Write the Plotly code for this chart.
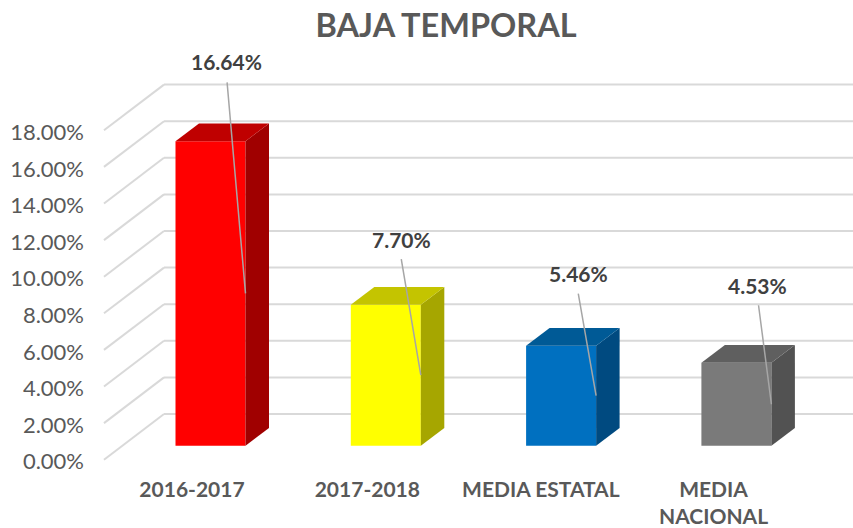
import plotly.graph_objects as go

categories = ["2016-2017", "2017-2018", "MEDIA ESTATAL", "MEDIA<br>NACIONAL"]
category_ticks = [0, 1, 1.99, 2.975]
values = [16.64, 7.70, 5.46, 4.53]
y_ticks = [0, 2, 4, 6, 8, 10, 12, 14, 16, 18]
y_tick_labels = ["0.00%", "2.00%", "4.00%", "6.00%", "8.00%", "10.00%", "12.00%", "14.00%", "16.00%", "18.00%"]

front_colors = ["#ff0000", "#ffff00", "#0070c0", "#7a7a7a"]
side_colors = ["#a00000", "#a6a600", "#004a80", "#525252"]
top_colors = ["#bf0000", "#c4c400", "#005a96", "#5f5f5f"]

# offsets from the bar edge, in pixels
leader_ax = [-18.5, -19.7, -18, -13]
leader_ay = [-212, -117, -103, -100]
label_dx = [-19.5, -19.7, -18, -14]
label_dy = [-232, -136, -122, -119]

WIDTH, HEIGHT = 853, 528
L, R, T, B = 85, 0, 50, 60

PX_X = 175.3  # pixels per category
PX_Y = 18.3  # pixels per percent
FIRST_TICK = 192  # pixel position of category 0
ZERO_Y = 445.7  # pixel position of 0% on the front of the bars

x_range = [(L - FIRST_TICK) / PX_X, (WIDTH - R - FIRST_TICK) / PX_X]
y_range = [(ZERO_Y - (HEIGHT - B)) / PX_Y, (ZERO_Y - T) / PX_Y]

bar_offset = -16.5 / PX_X
bar_width = 70 / PX_X
depth_x = 23.5 / PX_X
depth_y = 17.7 / PX_Y

# the wall sits behind and the floor edge in front of the bars
wall_up = 31.7 / PX_Y
floor_down = 14 / PX_Y
wall_left = (164 - FIRST_TICK) / PX_X
floor_left = (104 - FIRST_TICK) / PX_X

grid = dict(color="#d9d9d9", width=2)

fig = go.Figure()

fig.add_trace(
    go.Bar(
        x=list(range(len(values))),
        y=values,
        offset=bar_offset,
        width=bar_width,
        marker=dict(color=front_colors, line=dict(width=0)),
        showlegend=False,
    )
)

for i, v in enumerate(values):
    xl = i + bar_offset
    xr = xl + bar_width
    fig.add_trace(
        go.Scatter(
            x=[xr, xr + depth_x, xr + depth_x, xr, xr],
            y=[0, depth_y, v + depth_y, v, 0],
            mode="lines",
            fill="toself",
            fillcolor=side_colors[i],
            line=dict(width=0),
            showlegend=False,
        )
    )
    fig.add_trace(
        go.Scatter(
            x=[xl, xl + depth_x, xr + depth_x, xr, xl],
            y=[v, v + depth_y, v + depth_y, v, v],
            mode="lines",
            fill="toself",
            fillcolor=top_colors[i],
            line=dict(width=0),
            showlegend=False,
        )
    )
    # leader line, then its label
    fig.add_annotation(
        x=xr,
        y=v / 2,
        ax=leader_ax[i],
        ay=leader_ay[i],
        text=" ",
        font=dict(size=1),
        borderpad=0,
        showarrow=True,
        arrowhead=0,
        arrowwidth=1.5,
        arrowcolor="#a6a6a6",
    )
    fig.add_annotation(
        x=xr,
        y=v / 2,
        xshift=label_dx[i],
        yshift=-label_dy[i],
        text=f"<b>{v:.2f}%</b>",
        font=dict(family="Lato", size=21, color="#404040"),
        showarrow=False,
        xanchor="center",
        yanchor="middle",
    )

for t in y_ticks:
    # slanted side wall, on the axis that carries the tick labels
    fig.add_trace(
        go.Scatter(
            x=[floor_left, wall_left],
            y=[t, t + floor_down + wall_up],
            yaxis="y2",
            mode="lines",
            line=grid,
            showlegend=False,
        )
    )
    fig.add_shape(
        type="line", x0=wall_left, x1=x_range[1], y0=t + wall_up, y1=t + wall_up,
        line=grid, layer="below",
    )

fig.update_layout(
    title=dict(
        text="<b>BAJA TEMPORAL</b>",
        x=0.523,
        xanchor="center",
        y=0.952,
        yanchor="middle",
        font=dict(family="Lato", size=32.5, color="#595959"),
    ),
    width=WIDTH,
    height=HEIGHT,
    margin=dict(l=L, r=R, t=T, b=B),
    plot_bgcolor="white",
    paper_bgcolor="white",
    xaxis=dict(
        range=x_range,
        tickvals=category_ticks,
        ticktext=[f"<b>{c}</b>" for c in categories],
        tickangle=0,
        showgrid=False,
        zeroline=False,
        showline=False,
        ticks="",
        ticklabelstandoff=7,
        tickfont=dict(family="Lato", size=21, color="#595959"),
    ),
    yaxis=dict(
        range=y_range,
        showgrid=False,
        zeroline=False,
        showline=False,
        showticklabels=False,
        ticks="",
    ),
    yaxis2=dict(
        overlaying="y",
        side="left",
        range=[y_range[0] + floor_down, y_range[1] + floor_down],
        tickvals=y_ticks,
        ticktext=y_tick_labels,
        showgrid=False,
        zeroline=False,
        showline=False,
        ticks="",
        ticklabelshift=2,
        tickfont=dict(family="Lato", size=22, color="#595959"),
    ),
)

fig.write_html("out.html", config=dict(displayModeBar=False), post_script="document.body.style.margin='0';")
